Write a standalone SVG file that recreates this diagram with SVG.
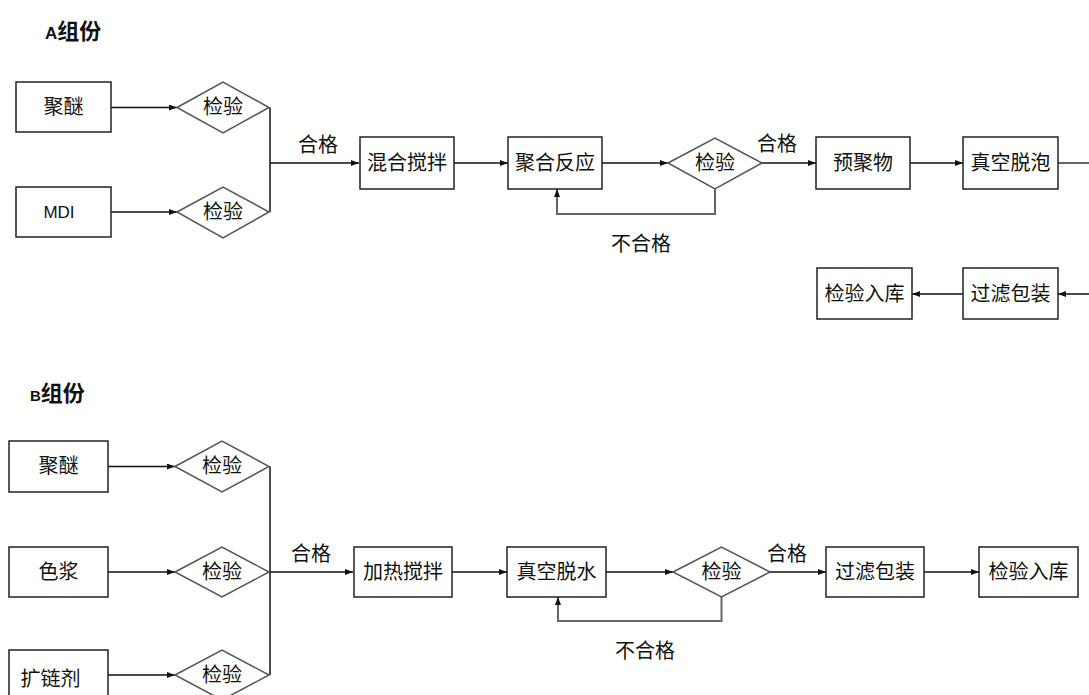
<svg xmlns="http://www.w3.org/2000/svg" width="1089" height="695" viewBox="0 0 1089 695">
<style>
.box{fill:#fff;stroke:#222;stroke-width:1.5}
.dia{fill:#fff;stroke:#555;stroke-width:1.5}
.t{font-family:"Noto Sans CJK SC","Liberation Sans",sans-serif;font-size:20px;fill:#111;text-anchor:middle}
.lat{font-family:"Liberation Sans",Arial,sans-serif;font-size:17px;fill:#111;text-anchor:middle}
.title{font-family:"Noto Sans CJK SC","Liberation Sans",sans-serif;font-size:22px;font-weight:bold;fill:#111}
.ln{fill:none;stroke:#111;stroke-width:1.5}
.fb{fill:none;stroke:#666;stroke-width:2}
.ar{marker-end:url(#arr)}
</style>
<defs>
<marker id="arr" markerWidth="8" markerHeight="6" refX="8" refY="3" orient="auto" markerUnits="userSpaceOnUse">
<path d="M0,0 L8,3 L0,6 z" fill="#111"/>
</marker>
</defs>
<rect width="1089" height="695" fill="#fff"/>

<text class="title" x="45" y="39"><tspan font-family="Liberation Sans,Arial,sans-serif" font-size="17">A</tspan>组份</text>
<text class="title" x="30" y="401"><tspan font-family="Liberation Sans,Arial,sans-serif" font-size="15">B</tspan>组份</text>

<g id="connectors">
<line class="ln ar" x1="111" y1="107.5" x2="177" y2="107.5"/>
<line class="ln ar" x1="111" y1="212" x2="177" y2="212"/>
<line class="ln" x1="270" y1="107.5" x2="270" y2="212"/>
<line class="ln ar" x1="270" y1="163" x2="359" y2="163"/>
<line class="ln ar" x1="454" y1="163" x2="508" y2="163"/>
<line class="ln ar" x1="602" y1="163" x2="668" y2="163"/>
<polyline class="fb ar" points="715,189 715,214 557,214 557,189"/>
<line class="ln ar" x1="762" y1="163" x2="816" y2="163"/>
<line class="ln ar" x1="910" y1="163" x2="963" y2="163"/>
<line class="fb" x1="1058" y1="163" x2="1089" y2="163"/>
<line class="ln ar" x1="1089" y1="294" x2="1058" y2="294"/>
<line class="ln ar" x1="963" y1="294" x2="912" y2="294"/>

<line class="ln ar" x1="108" y1="466.5" x2="175" y2="466.5"/>
<line class="ln ar" x1="108" y1="572" x2="175" y2="572"/>
<line class="ln ar" x1="108" y1="675" x2="175" y2="675"/>
<line class="ln" x1="270" y1="466.5" x2="270" y2="675"/>
<line class="ln ar" x1="270" y1="572" x2="353" y2="572"/>
<line class="ln ar" x1="452" y1="572" x2="507" y2="572"/>
<line class="ln ar" x1="606" y1="572" x2="673" y2="572"/>
<polyline class="fb ar" points="721.5,597 721.5,621 558,621 558,597"/>
<line class="ln ar" x1="770" y1="572" x2="826" y2="572"/>
<line class="ln ar" x1="924" y1="572" x2="979" y2="572"/>
</g>

<g id="labels">
<text class="t" x="318" y="152">合格</text>
<text class="t" x="641" y="251">不合格</text>
<text class="t" x="777" y="151">合格</text>
<text class="t" x="311" y="561">合格</text>
<text class="t" x="645" y="658">不合格</text>
<text class="t" x="787" y="561">合格</text>
</g>

<g id="a-juemi"><rect class="box" x="16" y="82" width="95" height="50"/><text class="t" x="63.5" y="114">聚醚</text></g>
<g id="a-mdi"><rect class="box" x="16" y="187" width="95" height="50"/><text class="lat" x="59" y="218">MDI</text></g>
<g id="a-check1"><polygon class="dia" points="177,107.5 223,82 269,107.5 223,133"/><text class="t" x="223" y="114">检验</text></g>
<g id="a-check2"><polygon class="dia" points="177,212 223,187 269,212 223,238"/><text class="t" x="223" y="219">检验</text></g>
<g id="a-mix"><rect class="box" x="360" y="137" width="94" height="52"/><text class="t" x="407" y="170">混合搅拌</text></g>
<g id="a-poly"><rect class="box" x="508" y="137" width="94" height="52"/><text class="t" x="555" y="170">聚合反应</text></g>
<g id="a-check3"><polygon class="dia" points="668,163 715,138 762,163 715,189"/><text class="t" x="715" y="170">检验</text></g>
<g id="a-prepoly"><rect class="box" x="816" y="137" width="94" height="52"/><text class="t" x="863" y="170">预聚物</text></g>
<g id="a-vacuum"><rect class="box" x="963" y="137" width="95" height="52"/><text class="t" x="1010.5" y="170">真空脱泡</text></g>
<g id="a-filter"><rect class="box" x="963" y="268" width="95" height="51"/><text class="t" x="1010.5" y="301">过滤包装</text></g>
<g id="a-store"><rect class="box" x="817" y="268" width="95" height="51"/><text class="t" x="864.5" y="301">检验入库</text></g>

<g id="b-juemi"><rect class="box" x="9" y="441" width="99" height="51"/><text class="t" x="58.5" y="473">聚醚</text></g>
<g id="b-sejiang"><rect class="box" x="9" y="547" width="99" height="50"/><text class="t" x="58.5" y="579">色浆</text></g>
<g id="b-kuolian"><rect class="box" x="9" y="650" width="99" height="52"/><text class="t" x="50.5" y="686">扩链剂</text></g>
<g id="b-check1"><polygon class="dia" points="175,466.5 222,441 269,466.5 222,492"/><text class="t" x="222" y="473">检验</text></g>
<g id="b-check2"><polygon class="dia" points="175,572 222,547 269,572 222,597"/><text class="t" x="222" y="579">检验</text></g>
<g id="b-check3"><polygon class="dia" points="175,675 222,650 269,675 222,700"/><text class="t" x="222" y="682">检验</text></g>
<g id="b-heat"><rect class="box" x="354" y="547" width="98" height="50"/><text class="t" x="403" y="579">加热搅拌</text></g>
<g id="b-vacuum"><rect class="box" x="507" y="547" width="99" height="50"/><text class="t" x="556.5" y="579">真空脱水</text></g>
<g id="b-check4"><polygon class="dia" points="673,572 721.5,547 770,572 721.5,597"/><text class="t" x="721.5" y="579">检验</text></g>
<g id="b-filter"><rect class="box" x="826" y="547" width="98" height="50"/><text class="t" x="875" y="579">过滤包装</text></g>
<g id="b-store"><rect class="box" x="979" y="547" width="99" height="50"/><text class="t" x="1028.5" y="579">检验入库</text></g>
</svg>
